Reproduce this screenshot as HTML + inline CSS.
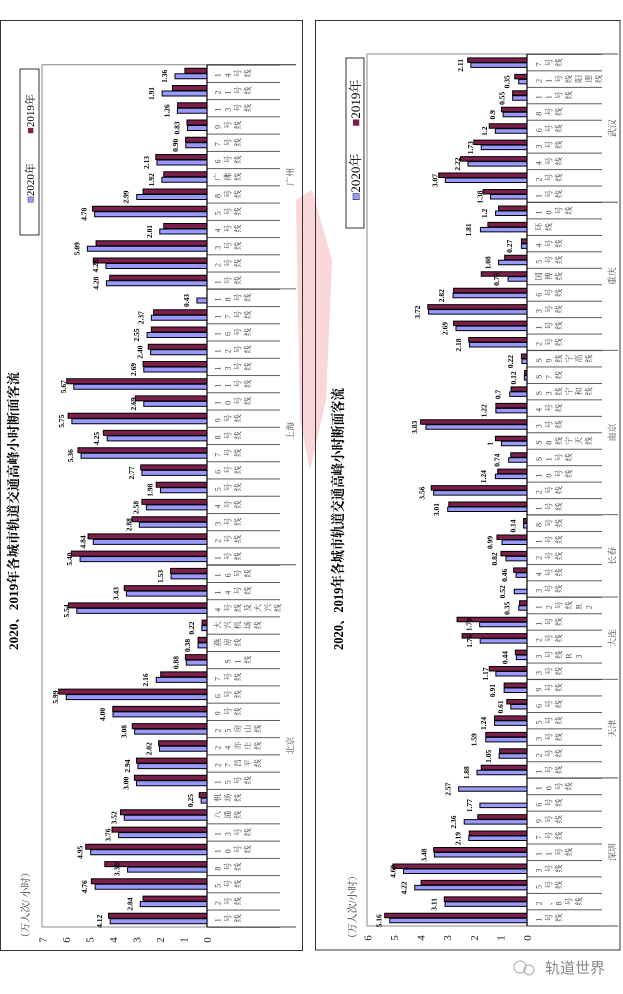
<!DOCTYPE html>
<html><head><meta charset="utf-8">
<style>
html,body{margin:0;padding:0;background:#fff;}
svg{display:block}
.m{fill:#7B1F4B;stroke:#000;stroke-width:1;vector-effect:non-scaling-stroke}
.b{fill:#9999FF;stroke:#000;stroke-width:1;vector-effect:non-scaling-stroke}
.v{font:bold 7.5px "Liberation Serif",serif;text-anchor:middle;fill:#000}
.c{font:8px "Liberation Serif","Noto Serif CJK SC",serif;fill:#444}
.g{font:9px "Liberation Serif","Noto Serif CJK SC",serif;fill:#555;text-anchor:middle}
.t{font:11px "Liberation Serif",serif;fill:#222;text-anchor:middle}
</style></head><body>
<svg width="623" height="994" viewBox="0 0 623 994" xmlns="http://www.w3.org/2000/svg">
<defs>
<pattern id="pl" patternUnits="userSpaceOnUse" x="0" y="64.7" width="200" height="17.244"><rect width="200" height="0.8" fill="#333"/></pattern>
<pattern id="pr" patternUnits="userSpaceOnUse" x="0" y="54" width="200" height="16.45"><rect width="200" height="0.8" fill="#333"/></pattern>
</defs>
<rect width="623" height="994" fill="#fff"/>
<!-- pink watermark -->
<path d="M296 200 L312 190 L332 260 L326 400 L310 470 L300 420 Z" fill="#f4b4b8" opacity="0.55"/>

<!-- LEFT PANEL -->
<rect x="0.5" y="20.5" width="302" height="930" fill="none" stroke="#333" stroke-width="1"/>
<path d="M42 64.7 H296 M42 64.7 V927 M42 927 H296" stroke="#888" stroke-width="1" fill="none"/>
<rect x="207" y="64" width="73" height="864" fill="url(#pl)"/>
<path d="M207 564.8 H296 M207 288.9 H296 M207 927 H296 M207 64.7 H296" stroke="#333" stroke-width="0.8"/>
<line x1="207" y1="64.7" x2="207" y2="927" stroke="#000" stroke-width="1.2"/>
<text class="g" transform="translate(293.5 745.8) rotate(-90)">北京</text>
<text class="g" transform="translate(293.5 431) rotate(-90)">上海</text>
<text class="g" transform="translate(293.5 176.8) rotate(-90)">广州</text>
<g class="t">
<text transform="translate(211 940) rotate(-90)">0</text>
<text transform="translate(187.5 940) rotate(-90)">1</text>
<text transform="translate(164 940) rotate(-90)">2</text>
<text transform="translate(140.5 940) rotate(-90)">3</text>
<text transform="translate(117 940) rotate(-90)">4</text>
<text transform="translate(93.5 940) rotate(-90)">5</text>
<text transform="translate(70 940) rotate(-90)">6</text>
<text transform="translate(46.5 940) rotate(-90)">7</text>
</g>
<text transform="translate(29 905) rotate(-90)" style="font:10px 'Liberation Serif','Noto Serif CJK SC',serif;fill:#333" text-anchor="middle">（万人次/ 小时）</text>
<text transform="translate(18 511) rotate(-90)" style="font:bold 13px 'Liberation Serif','Noto Serif CJK SC',serif" text-anchor="middle" textLength="278" lengthAdjust="spacingAndGlyphs">2020、2019年各城市轨道交通高峰小时断面客流</text>
<rect x="20" y="69" width="19" height="166" fill="#fff" stroke="#000" stroke-width="0.8"/>
<text transform="translate(34 183) rotate(-90)" style="font:11px 'Liberation Serif','Noto Serif CJK SC',serif" text-anchor="middle"><tspan fill="#9999FF" stroke="#000" stroke-width="0.4">■</tspan>2020年</text>
<text transform="translate(34 114) rotate(-90)" style="font:11px 'Liberation Serif','Noto Serif CJK SC',serif" text-anchor="middle"><tspan fill="#7B1F4B">■</tspan>2019年</text>

<g transform="translate(207 0) scale(-23.5 1)">
<g transform="translate(0 918.3)"><rect class="m" y="-5" height="5" width="4.19"/><rect class="b" y=".5" height="5" width="4.12"/><text class="v" transform="translate(4.12) scale(-.04255 1) translate(-8 3) rotate(-90)">4.12</text></g>
<g transform="translate(0 901.1)"><rect class="m" y="-5" height="5" width="2.72"/><rect class="b" y=".5" height="5" width="2.84"/><text class="v" transform="translate(2.84) scale(-.04255 1) translate(-8 3) rotate(-90)">2.84</text></g>
<g transform="translate(0 883.8)"><rect class="m" y="-5" height="5" width="4.92"/><rect class="b" y=".5" height="5" width="4.76"/><text class="v" transform="translate(4.76) scale(-.04255 1) translate(-8 3) rotate(-90)">4.76</text></g>
<g transform="translate(0 866.6)"><rect class="m" y="-5" height="5" width="4.35"/><rect class="b" y=".5" height="5" width="3.38"/><text class="v" transform="translate(3.38) scale(-.04255 1) translate(-8 3) rotate(-90)">3.38</text></g>
<g transform="translate(0 849.3)"><rect class="m" y="-5" height="5" width="5.16"/><rect class="b" y=".5" height="5" width="4.95"/><text class="v" transform="translate(4.95) scale(-.04255 1) translate(-8 3) rotate(-90)">4.95</text></g>
<g transform="translate(0 832.1)"><rect class="m" y="-5" height="5" width="4.04"/><rect class="b" y=".5" height="5" width="3.76"/><text class="v" transform="translate(3.76) scale(-.04255 1) translate(-8 3) rotate(-90)">3.76</text></g>
<g transform="translate(0 814.8)"><rect class="m" y="-5" height="5" width="3.68"/><rect class="b" y=".5" height="5" width="3.52"/><text class="v" transform="translate(3.52) scale(-.04255 1) translate(-8 3) rotate(-90)">3.52</text></g>
<g transform="translate(0 797.6)"><rect class="m" y="-5" height="5" width="0.33"/><rect class="b" y=".5" height="5" width="0.25"/><text class="v" transform="translate(0.25) scale(-.04255 1) translate(-8 3) rotate(-90)">0.25</text></g>
<g transform="translate(0 780.3)"><rect class="m" y="-5" height="5" width="3.09"/><rect class="b" y=".5" height="5" width="3.00"/><text class="v" transform="translate(3.00) scale(-.04255 1) translate(-8 3) rotate(-90)">3.00</text></g>
<g transform="translate(0 763.1)"><rect class="m" y="-5" height="5" width="3.00"/><rect class="b" y=".5" height="5" width="2.94"/><text class="v" transform="translate(2.94) scale(-.04255 1) translate(-8 3) rotate(-90)">2.94</text></g>
<g transform="translate(0 745.8)"><rect class="m" y="-5" height="5" width="2.06"/><rect class="b" y=".5" height="5" width="2.02"/><text class="v" transform="translate(2.02) scale(-.04255 1) translate(-8 3) rotate(-90)">2.02</text></g>
<g transform="translate(0 728.6)"><rect class="m" y="-5" height="5" width="3.18"/><rect class="b" y=".5" height="5" width="3.08"/><text class="v" transform="translate(3.08) scale(-.04255 1) translate(-8 3) rotate(-90)">3.08</text></g>
<g transform="translate(0 711.4)"><rect class="m" y="-5" height="5" width="4.01"/><rect class="b" y=".5" height="5" width="4.00"/><text class="v" transform="translate(4.00) scale(-.04255 1) translate(-8 3) rotate(-90)">4.00</text></g>
<g transform="translate(0 694.1)"><rect class="m" y="-5" height="5" width="6.31"/><rect class="b" y=".5" height="5" width="5.99"/><text class="v" transform="translate(5.99) scale(-.04255 1) translate(-8 3) rotate(-90)">5.99</text></g>
<g transform="translate(0 676.9)"><rect class="m" y="-5" height="5" width="1.97"/><rect class="b" y=".5" height="5" width="2.16"/><text class="v" transform="translate(2.16) scale(-.04255 1) translate(-8 3) rotate(-90)">2.16</text></g>
<g transform="translate(0 659.6)"><rect class="m" y="-5" height="5" width="0.92"/><rect class="b" y=".5" height="5" width="0.88"/><text class="v" transform="translate(0.88) scale(-.04255 1) translate(-8 3) rotate(-90)">0.88</text></g>
<g transform="translate(0 642.4)"><rect class="m" y="-5" height="5" width="0.38"/><rect class="b" y=".5" height="5" width="0.38"/><text class="v" transform="translate(0.38) scale(-.04255 1) translate(-8 3) rotate(-90)">0.38</text></g>
<g transform="translate(0 625.1)"><rect class="m" y="-5" height="5" width="0.21"/><rect class="b" y=".5" height="5" width="0.22"/><text class="v" transform="translate(0.22) scale(-.04255 1) translate(-8 3) rotate(-90)">0.22</text></g>
<g transform="translate(0 607.9)"><rect class="m" y="-5" height="5" width="5.89"/><rect class="b" y=".5" height="5" width="5.54"/><text class="v" transform="translate(5.54) scale(-.04255 1) translate(-8 3) rotate(-90)">5.54</text></g>
<g transform="translate(0 590.6)"><rect class="m" y="-5" height="5" width="3.52"/><rect class="b" y=".5" height="5" width="3.43"/><text class="v" transform="translate(3.43) scale(-.04255 1) translate(-8 3) rotate(-90)">3.43</text></g>
<g transform="translate(0 573.4)"><rect class="m" y="-5" height="5" width="1.55"/><rect class="b" y=".5" height="5" width="1.53"/><text class="v" transform="translate(1.53) scale(-.04255 1) translate(-8 3) rotate(-90)">1.53</text></g>
<g transform="translate(0 556.1)"><rect class="m" y="-5" height="5" width="5.77"/><rect class="b" y=".5" height="5" width="5.40"/><text class="v" transform="translate(5.40) scale(-.04255 1) translate(-8 3) rotate(-90)">5.40</text></g>
<g transform="translate(0 538.9)"><rect class="m" y="-5" height="5" width="5.06"/><rect class="b" y=".5" height="5" width="4.84"/><text class="v" transform="translate(4.84) scale(-.04255 1) translate(-8 3) rotate(-90)">4.84</text></g>
<g transform="translate(0 521.7)"><rect class="m" y="-5" height="5" width="3.19"/><rect class="b" y=".5" height="5" width="2.88"/><text class="v" transform="translate(2.88) scale(-.04255 1) translate(-8 3) rotate(-90)">2.88</text></g>
<g transform="translate(0 504.4)"><rect class="m" y="-5" height="5" width="2.77"/><rect class="b" y=".5" height="5" width="2.58"/><text class="v" transform="translate(2.58) scale(-.04255 1) translate(-8 3) rotate(-90)">2.58</text></g>
<g transform="translate(0 487.2)"><rect class="m" y="-5" height="5" width="2.16"/><rect class="b" y=".5" height="5" width="1.98"/><text class="v" transform="translate(1.98) scale(-.04255 1) translate(-8 3) rotate(-90)">1.98</text></g>
<g transform="translate(0 469.9)"><rect class="m" y="-5" height="5" width="2.82"/><rect class="b" y=".5" height="5" width="2.77"/><text class="v" transform="translate(2.77) scale(-.04255 1) translate(-8 3) rotate(-90)">2.77</text></g>
<g transform="translate(0 452.7)"><rect class="m" y="-5" height="5" width="5.49"/><rect class="b" y=".5" height="5" width="5.36"/><text class="v" transform="translate(5.36) scale(-.04255 1) translate(-8 3) rotate(-90)">5.36</text></g>
<g transform="translate(0 435.4)"><rect class="m" y="-5" height="5" width="4.41"/><rect class="b" y=".5" height="5" width="4.25"/><text class="v" transform="translate(4.25) scale(-.04255 1) translate(-8 3) rotate(-90)">4.25</text></g>
<g transform="translate(0 418.2)"><rect class="m" y="-5" height="5" width="5.91"/><rect class="b" y=".5" height="5" width="5.75"/><text class="v" transform="translate(5.75) scale(-.04255 1) translate(-8 3) rotate(-90)">5.75</text></g>
<g transform="translate(0 400.9)"><rect class="m" y="-5" height="5" width="3.05"/><rect class="b" y=".5" height="5" width="2.69"/><text class="v" transform="translate(2.69) scale(-.04255 1) translate(-8 3) rotate(-90)">2.69</text></g>
<g transform="translate(0 383.7)"><rect class="m" y="-5" height="5" width="5.97"/><rect class="b" y=".5" height="5" width="5.67"/><text class="v" transform="translate(5.67) scale(-.04255 1) translate(-8 3) rotate(-90)">5.67</text></g>
<g transform="translate(0 366.5)"><rect class="m" y="-5" height="5" width="2.72"/><rect class="b" y=".5" height="5" width="2.69"/><text class="v" transform="translate(2.69) scale(-.04255 1) translate(-8 3) rotate(-90)">2.69</text></g>
<g transform="translate(0 349.2)"><rect class="m" y="-5" height="5" width="2.50"/><rect class="b" y=".5" height="5" width="2.40"/><text class="v" transform="translate(2.40) scale(-.04255 1) translate(-8 3) rotate(-90)">2.40</text></g>
<g transform="translate(0 332.0)"><rect class="m" y="-5" height="5" width="2.37"/><rect class="b" y=".5" height="5" width="2.55"/><text class="v" transform="translate(2.55) scale(-.04255 1) translate(-8 3) rotate(-90)">2.55</text></g>
<g transform="translate(0 314.7)"><rect class="m" y="-5" height="5" width="2.27"/><rect class="b" y=".5" height="5" width="2.37"/><text class="v" transform="translate(2.37) scale(-.04255 1) translate(-8 3) rotate(-90)">2.37</text></g>
<g transform="translate(0 297.5)"><rect class="b" y=".5" height="5" width="0.43"/><text class="v" transform="translate(0.43) scale(-.04255 1) translate(-8 3) rotate(-90)">0.43</text></g>
<g transform="translate(0 280.2)"><rect class="m" y="-5" height="5" width="4.14"/><rect class="b" y=".5" height="5" width="4.28"/><text class="v" transform="translate(4.28) scale(-.04255 1) translate(-8 3) rotate(-90)">4.28</text></g>
<g transform="translate(0 263.0)"><rect class="m" y="-5" height="5" width="4.84"/><rect class="b" y=".5" height="5" width="4.30"/><text class="v" transform="translate(4.30) scale(-.04255 1) translate(-8 3) rotate(-90)">4.28</text></g>
<g transform="translate(0 245.7)"><rect class="m" y="-5" height="5" width="4.72"/><rect class="b" y=".5" height="5" width="5.09"/><text class="v" transform="translate(5.09) scale(-.04255 1) translate(-8 3) rotate(-90)">5.09</text></g>
<g transform="translate(0 228.5)"><rect class="m" y="-5" height="5" width="1.84"/><rect class="b" y=".5" height="5" width="2.01"/><text class="v" transform="translate(2.01) scale(-.04255 1) translate(-8 3) rotate(-90)">2.01</text></g>
<g transform="translate(0 211.2)"><rect class="m" y="-5" height="5" width="4.87"/><rect class="b" y=".5" height="5" width="4.78"/><text class="v" transform="translate(4.78) scale(-.04255 1) translate(-8 3) rotate(-90)">4.78</text></g>
<g transform="translate(0 194.0)"><rect class="m" y="-5" height="5" width="2.72"/><rect class="b" y=".5" height="5" width="2.99"/><text class="v" transform="translate(2.99) scale(-.04255 1) translate(-8 3) rotate(-90)">2.99</text></g>
<g transform="translate(0 176.8)"><rect class="m" y="-5" height="5" width="1.84"/><rect class="b" y=".5" height="5" width="1.92"/><text class="v" transform="translate(1.92) scale(-.04255 1) translate(-8 3) rotate(-90)">1.92</text></g>
<g transform="translate(0 159.5)"><rect class="m" y="-5" height="5" width="2.18"/><rect class="b" y=".5" height="5" width="2.13"/><text class="v" transform="translate(2.13) scale(-.04255 1) translate(-8 3) rotate(-90)">2.13</text></g>
<g transform="translate(0 142.3)"><rect class="m" y="-5" height="5" width="0.91"/><rect class="b" y=".5" height="5" width="0.90"/><text class="v" transform="translate(0.90) scale(-.04255 1) translate(-8 3) rotate(-90)">0.90</text></g>
<g transform="translate(0 125.0)"><rect class="m" y="-5" height="5" width="0.85"/><rect class="b" y=".5" height="5" width="0.83"/><text class="v" transform="translate(0.83) scale(-.04255 1) translate(-8 3) rotate(-90)">0.83</text></g>
<g transform="translate(0 107.8)"><rect class="m" y="-5" height="5" width="1.25"/><rect class="b" y=".5" height="5" width="1.26"/><text class="v" transform="translate(1.26) scale(-.04255 1) translate(-8 3) rotate(-90)">1.26</text></g>
<g transform="translate(0 90.5)"><rect class="m" y="-5" height="5" width="1.47"/><rect class="b" y=".5" height="5" width="1.91"/><text class="v" transform="translate(1.91) scale(-.04255 1) translate(-8 3) rotate(-90)">1.91</text></g>
<g transform="translate(0 73.3)"><rect class="m" y="-5" height="5" width="0.94"/><rect class="b" y=".5" height="5" width="1.36"/><text class="v" transform="translate(1.36) scale(-.04255 1) translate(-8 3) rotate(-90)">1.36</text></g>
</g>

<!-- left category labels -->
<g class="c">
<text x="220.5 230.5 240.5 250.5 260.5 270.5 280.5" y="922.3" rotate="-90">1号线</text>
<text x="220.5 230.5 240.5 250.5 260.5 270.5 280.5" y="905.1" rotate="-90">2号线</text>
<text x="220.5 230.5 240.5 250.5 260.5 270.5 280.5" y="887.8" rotate="-90">5号线</text>
<text x="220.5 230.5 240.5 250.5 260.5 270.5 280.5" y="870.6" rotate="-90">8号线</text>
<text x="220.5 230.5 240.5 250.5 260.5 270.5 280.5" y="853.3" rotate="-90">10号线</text>
<text x="220.5 230.5 240.5 250.5 260.5 270.5 280.5" y="836.1" rotate="-90">13号线</text>
<text x="220.5 230.5 240.5 250.5 260.5 270.5 280.5" y="818.8" rotate="-90">八通线</text>
<text x="220.5 230.5 240.5 250.5 260.5 270.5 280.5" y="801.6" rotate="-90">机场线</text>
<text x="220.5 230.5 240.5 250.5 260.5 270.5 280.5" y="784.3" rotate="-90">15号线</text>
<text x="220.5 230.5 240.5 250.5 260.5 270.5 280.5" y="767.1" rotate="-90">27昌平线</text>
<text x="220.5 230.5 240.5 250.5 260.5 270.5 280.5" y="749.8" rotate="-90">24亦庄线</text>
<text x="220.5 230.5 240.5 250.5 260.5 270.5 280.5" y="732.6" rotate="-90">25房山线</text>
<text x="220.5 230.5 240.5 250.5 260.5 270.5 280.5" y="715.4" rotate="-90">9号线</text>
<text x="220.5 230.5 240.5 250.5 260.5 270.5 280.5" y="698.1" rotate="-90">6号线</text>
<text x="220.5 230.5 240.5 250.5 260.5 270.5 280.5" y="680.9" rotate="-90">7号线</text>
<text x="230.5 240.5 250.5 260.5" y="663.6" rotate="-90">S1线</text>
<text x="220.5 230.5 240.5 250.5 260.5 270.5 280.5" y="646.4" rotate="-90">燕房线</text>
<text x="220.5 230.5 240.5 250.5 260.5 270.5 280.5" y="629.1" rotate="-90">大兴机场线</text>
<text x="220.5 230.5 240.5 250.5 260.5 270.5 280.5" y="611.9" rotate="-90">4号线及大兴线</text>
<text x="220.5 230.5 240.5 250.5 260.5 270.5 280.5" y="594.6" rotate="-90">14号线</text>
<text x="220.5 230.5 240.5 250.5 260.5 270.5 280.5" y="577.4" rotate="-90">16号线</text>
<text x="220.5 230.5 240.5 250.5 260.5 270.5 280.5" y="560.1" rotate="-90">1号线</text>
<text x="220.5 230.5 240.5 250.5 260.5 270.5 280.5" y="542.9" rotate="-90">2号线</text>
<text x="220.5 230.5 240.5 250.5 260.5 270.5 280.5" y="525.7" rotate="-90">3号线</text>
<text x="220.5 230.5 240.5 250.5 260.5 270.5 280.5" y="508.4" rotate="-90">4号线</text>
<text x="220.5 230.5 240.5 250.5 260.5 270.5 280.5" y="491.2" rotate="-90">5号线</text>
<text x="220.5 230.5 240.5 250.5 260.5 270.5 280.5" y="473.9" rotate="-90">6号线</text>
<text x="220.5 230.5 240.5 250.5 260.5 270.5 280.5" y="456.7" rotate="-90">7号线</text>
<text x="220.5 230.5 240.5 250.5 260.5 270.5 280.5" y="439.4" rotate="-90">8号线</text>
<text x="220.5 230.5 240.5 250.5 260.5 270.5 280.5" y="422.2" rotate="-90">9号线</text>
<text x="220.5 230.5 240.5 250.5 260.5 270.5 280.5" y="404.9" rotate="-90">10号线</text>
<text x="220.5 230.5 240.5 250.5 260.5 270.5 280.5" y="387.7" rotate="-90">11号线</text>
<text x="220.5 230.5 240.5 250.5 260.5 270.5 280.5" y="370.5" rotate="-90">13号线</text>
<text x="220.5 230.5 240.5 250.5 260.5 270.5 280.5" y="353.2" rotate="-90">12号线</text>
<text x="220.5 230.5 240.5 250.5 260.5 270.5 280.5" y="336.0" rotate="-90">16号线</text>
<text x="220.5 230.5 240.5 250.5 260.5 270.5 280.5" y="318.7" rotate="-90">17号线</text>
<text x="220.5 230.5 240.5 250.5 260.5 270.5 280.5" y="301.5" rotate="-90">18号线</text>
<text x="220.5 230.5 240.5 250.5 260.5 270.5 280.5" y="284.2" rotate="-90">1号线</text>
<text x="220.5 230.5 240.5 250.5 260.5 270.5 280.5" y="267.0" rotate="-90">2号线</text>
<text x="220.5 230.5 240.5 250.5 260.5 270.5 280.5" y="249.7" rotate="-90">3号线</text>
<text x="220.5 230.5 240.5 250.5 260.5 270.5 280.5" y="232.5" rotate="-90">4号线</text>
<text x="220.5 230.5 240.5 250.5 260.5 270.5 280.5" y="215.2" rotate="-90">5号线</text>
<text x="220.5 230.5 240.5 250.5 260.5 270.5 280.5" y="198.0" rotate="-90">8号线</text>
<text x="220.5 230.5 240.5 250.5 260.5 270.5 280.5" y="180.8" rotate="-90">广佛线</text>
<text x="220.5 230.5 240.5 250.5 260.5 270.5 280.5" y="163.5" rotate="-90">6号线</text>
<text x="220.5 230.5 240.5 250.5 260.5 270.5 280.5" y="146.3" rotate="-90">7号线</text>
<text x="220.5 230.5 240.5 250.5 260.5 270.5 280.5" y="129.0" rotate="-90">9号线</text>
<text x="220.5 230.5 240.5 250.5 260.5 270.5 280.5" y="111.8" rotate="-90">13号线</text>
<text x="220.5 230.5 240.5 250.5 260.5 270.5 280.5" y="94.5" rotate="-90">21号线</text>
<text x="220.5 230.5 240.5 250.5 260.5 270.5 280.5" y="77.3" rotate="-90">14号线</text>
</g>

<!-- RIGHT PANEL -->
<rect x="315.5" y="20.5" width="304.5" height="929.5" fill="none" stroke="#333" stroke-width="1"/>
<path d="M367 54 H618 M367 54 V926 M367 926 H618" stroke="#888" stroke-width="1" fill="none"/>
<rect x="527" y="53.5" width="75" height="873" fill="url(#pr)"/>
<path d="M527 777.95 H618 M527 679.25 H618 M527 597 H618 M527 514.75 H618 M527 350.25 H618 M527 202.2 H618 M527 926 H618 M527 54 H618" stroke="#333" stroke-width="0.8"/>
<line x1="527" y1="54" x2="527" y2="926" stroke="#000" stroke-width="1.2"/>
<text class="g" transform="translate(615.5 852) rotate(-90)">深圳</text>
<text class="g" transform="translate(615.5 728.6) rotate(-90)">天津</text>
<text class="g" transform="translate(615.5 638) rotate(-90)">大连</text>
<text class="g" transform="translate(615.5 555.9) rotate(-90)">长春</text>
<text class="g" transform="translate(615.5 432.5) rotate(-90)">南京</text>
<text class="g" transform="translate(615.5 276.2) rotate(-90)">重庆</text>
<text class="g" transform="translate(615.5 128.2) rotate(-90)">武汉</text>
<g class="t">
<text transform="translate(531 938) rotate(-90)">0</text>
<text transform="translate(504.4 938) rotate(-90)">1</text>
<text transform="translate(477.8 938) rotate(-90)">2</text>
<text transform="translate(451.2 938) rotate(-90)">3</text>
<text transform="translate(424.6 938) rotate(-90)">4</text>
<text transform="translate(398 938) rotate(-90)">5</text>
<text transform="translate(371.4 938) rotate(-90)">6</text>
</g>
<text transform="translate(356 907) rotate(-90)" style="font:10px 'Liberation Serif','Noto Serif CJK SC',serif;fill:#333" text-anchor="middle">（万人次/小时）</text>
<text transform="translate(343 519) rotate(-90)" style="font:14px 'Liberation Serif','Noto Serif CJK SC',serif;font-weight:bold" text-anchor="middle" textLength="262" lengthAdjust="spacingAndGlyphs">2020、2019年各城市轨道交通高峰小时断面客流</text>
<rect x="346" y="58" width="18" height="170" fill="#fff" stroke="#000" stroke-width="0.8"/>
<text transform="translate(360 103) rotate(-90)" style="font:13px 'Liberation Serif','Noto Serif CJK SC',serif" text-anchor="middle"><tspan fill="#7B1F4B">■</tspan>2019年</text>
<text transform="translate(360 177) rotate(-90)" style="font:13px 'Liberation Serif','Noto Serif CJK SC',serif" text-anchor="middle"><tspan fill="#9999FF" stroke="#000" stroke-width="0.4">■</tspan>2020年</text>

<g transform="translate(527 0) scale(-26.6 1)">
<g transform="translate(0 917.8)"><rect class="m" y="-4.5" height="4.5" width="5.35"/><rect class="b" y=".5" height="4.5" width="5.16"/><text class="v" transform="translate(5.16) scale(-.037594 1) translate(-8 3) rotate(-90)">5.16</text></g>
<g transform="translate(0 901.35)"><rect class="m" y="-4.5" height="4.5" width="3.11"/><rect class="b" y=".5" height="4.5" width="3.08"/><text class="v" transform="translate(3.11) scale(-.037594 1) translate(-8 3) rotate(-90)">3.11</text></g>
<g transform="translate(0 884.9)"><rect class="m" y="-4.5" height="4.5" width="3.98"/><rect class="b" y=".5" height="4.5" width="4.22"/><text class="v" transform="translate(4.22) scale(-.037594 1) translate(-8 3) rotate(-90)">4.22</text></g>
<g transform="translate(0 868.45)"><rect class="m" y="-4.5" height="4.5" width="5.04"/><rect class="b" y=".5" height="4.5" width="4.64"/><text class="v" transform="translate(4.64) scale(-.037594 1) translate(-8 3) rotate(-90)">4.69</text></g>
<g transform="translate(0 852.0)"><rect class="m" y="-4.5" height="4.5" width="3.51"/><rect class="b" y=".5" height="4.5" width="3.48"/><text class="v" transform="translate(3.48) scale(-.037594 1) translate(-8 3) rotate(-90)">3.48</text></g>
<g transform="translate(0 835.55)"><rect class="m" y="-4.5" height="4.5" width="2.17"/><rect class="b" y=".5" height="4.5" width="2.19"/><text class="v" transform="translate(2.19) scale(-.037594 1) translate(-8 3) rotate(-90)">2.19</text></g>
<g transform="translate(0 819.1)"><rect class="m" y="-4.5" height="4.5" width="1.85"/><rect class="b" y=".5" height="4.5" width="2.36"/><text class="v" transform="translate(2.36) scale(-.037594 1) translate(-8 3) rotate(-90)">2.36</text></g>
<g transform="translate(0 802.65)"><rect class="b" y=".5" height="4.5" width="1.77"/><text class="v" transform="translate(1.77) scale(-.037594 1) translate(-8 3) rotate(-90)">1.77</text></g>
<g transform="translate(0 786.2)"><rect class="b" y=".5" height="4.5" width="2.57"/><text class="v" transform="translate(2.57) scale(-.037594 1) translate(-8 3) rotate(-90)">2.57</text></g>
<g transform="translate(0 769.75)"><rect class="m" y="-4.5" height="4.5" width="1.72"/><rect class="b" y=".5" height="4.5" width="1.88"/><text class="v" transform="translate(1.88) scale(-.037594 1) translate(-8 3) rotate(-90)">1.88</text></g>
<g transform="translate(0 753.3)"><rect class="m" y="-4.5" height="4.5" width="1.03"/><rect class="b" y=".5" height="4.5" width="1.05"/><text class="v" transform="translate(1.05) scale(-.037594 1) translate(-8 3) rotate(-90)">1.05</text></g>
<g transform="translate(0 736.85)"><rect class="m" y="-4.5" height="4.5" width="1.55"/><rect class="b" y=".5" height="4.5" width="1.55"/><text class="v" transform="translate(1.59) scale(-.037594 1) translate(-8 3) rotate(-90)">1.59</text></g>
<g transform="translate(0 720.4)"><rect class="m" y="-4.5" height="4.5" width="1.22"/><rect class="b" y=".5" height="4.5" width="1.22"/><text class="v" transform="translate(1.24) scale(-.037594 1) translate(-8 3) rotate(-90)">1.24</text></g>
<g transform="translate(0 703.95)"><rect class="m" y="-4.5" height="4.5" width="0.76"/><rect class="b" y=".5" height="4.5" width="0.61"/><text class="v" transform="translate(0.61) scale(-.037594 1) translate(-8 3) rotate(-90)">0.61</text></g>
<g transform="translate(0 687.5)"><rect class="m" y="-4.5" height="4.5" width="0.86"/><rect class="b" y=".5" height="4.5" width="0.86"/><text class="v" transform="translate(0.91) scale(-.037594 1) translate(-8 3) rotate(-90)">0.91</text></g>
<g transform="translate(0 671.05)"><rect class="m" y="-4.5" height="4.5" width="1.42"/><rect class="b" y=".5" height="4.5" width="1.17"/><text class="v" transform="translate(1.17) scale(-.037594 1) translate(-8 3) rotate(-90)">1.17</text></g>
<g transform="translate(0 654.6)"><rect class="m" y="-4.5" height="4.5" width="0.44"/><rect class="b" y=".5" height="4.5" width="0.40"/><text class="v" transform="translate(0.44) scale(-.037594 1) translate(-8 3) rotate(-90)">0.44</text></g>
<g transform="translate(0 638.15)"><rect class="m" y="-4.5" height="4.5" width="2.44"/><rect class="b" y=".5" height="4.5" width="1.76"/><text class="v" transform="translate(1.76) scale(-.037594 1) translate(-8 3) rotate(-90)">1.76</text></g>
<g transform="translate(0 621.7)"><rect class="m" y="-4.5" height="4.5" width="2.63"/><rect class="b" y=".5" height="4.5" width="1.78"/><text class="v" transform="translate(1.78) scale(-.037594 1) translate(-8 3) rotate(-90)">1.78</text></g>
<g transform="translate(0 605.25)"><rect class="m" y="-4.5" height="4.5" width="0.28"/><rect class="b" y=".5" height="4.5" width="0.31"/><text class="v" transform="translate(0.35) scale(-.037594 1) translate(-8 3) rotate(-90)">0.35</text></g>
<g transform="translate(0 588.8)"><rect class="b" y=".5" height="4.5" width="0.48"/><text class="v" transform="translate(0.52) scale(-.037594 1) translate(-8 3) rotate(-90)">0.52</text></g>
<g transform="translate(0 572.35)"><rect class="m" y="-4.5" height="4.5" width="0.50"/><rect class="b" y=".5" height="4.5" width="0.41"/><text class="v" transform="translate(0.46) scale(-.037594 1) translate(-8 3) rotate(-90)">0.46</text></g>
<g transform="translate(0 555.9)"><rect class="m" y="-4.5" height="4.5" width="0.98"/><rect class="b" y=".5" height="4.5" width="0.79"/><text class="v" transform="translate(0.82) scale(-.037594 1) translate(-8 3) rotate(-90)">0.82</text></g>
<g transform="translate(0 539.45)"><rect class="m" y="-4.5" height="4.5" width="1.13"/><rect class="b" y=".5" height="4.5" width="0.94"/><text class="v" transform="translate(0.99) scale(-.037594 1) translate(-8 3) rotate(-90)">0.99</text></g>
<g transform="translate(0 523.0)"><rect class="m" y="-4.5" height="4.5" width="0.13"/><rect class="b" y=".5" height="4.5" width="0.13"/><text class="v" transform="translate(0.14) scale(-.037594 1) translate(-8 3) rotate(-90)">0.14</text></g>
<g transform="translate(0 506.55)"><rect class="m" y="-4.5" height="4.5" width="2.94"/><rect class="b" y=".5" height="4.5" width="2.98"/><text class="v" transform="translate(3.01) scale(-.037594 1) translate(-8 3) rotate(-90)">3.01</text></g>
<g transform="translate(0 490.1)"><rect class="m" y="-4.5" height="4.5" width="3.60"/><rect class="b" y=".5" height="4.5" width="3.51"/><text class="v" transform="translate(3.56) scale(-.037594 1) translate(-8 3) rotate(-90)">3.56</text></g>
<g transform="translate(0 473.65)"><rect class="m" y="-4.5" height="4.5" width="1.10"/><rect class="b" y=".5" height="4.5" width="1.19"/><text class="v" transform="translate(1.24) scale(-.037594 1) translate(-8 3) rotate(-90)">1.24</text></g>
<g transform="translate(0 457.2)"><rect class="m" y="-4.5" height="4.5" width="0.61"/><rect class="b" y=".5" height="4.5" width="0.69"/><text class="v" transform="translate(0.74) scale(-.037594 1) translate(-8 3) rotate(-90)">0.74</text></g>
<g transform="translate(0 440.75)"><rect class="m" y="-4.5" height="4.5" width="1.19"/><rect class="b" y=".5" height="4.5" width="0.96"/><text class="v" transform="translate(1.0) scale(-.037594 1) translate(-8 3) rotate(-90)">1</text></g>
<g transform="translate(0 424.3)"><rect class="m" y="-4.5" height="4.5" width="4.00"/><rect class="b" y=".5" height="4.5" width="3.80"/><text class="v" transform="translate(3.83) scale(-.037594 1) translate(-8 3) rotate(-90)">3.83</text></g>
<g transform="translate(0 407.85)"><rect class="m" y="-4.5" height="4.5" width="1.17"/><rect class="b" y=".5" height="4.5" width="1.17"/><text class="v" transform="translate(1.22) scale(-.037594 1) translate(-8 3) rotate(-90)">1.22</text></g>
<g transform="translate(0 391.4)"><rect class="m" y="-4.5" height="4.5" width="0.60"/><rect class="b" y=".5" height="4.5" width="0.65"/><text class="v" transform="translate(0.7) scale(-.037594 1) translate(-8 3) rotate(-90)">0.7</text></g>
<g transform="translate(0 374.95)"><rect class="m" y="-4.5" height="4.5" width="0.09"/><rect class="b" y=".5" height="4.5" width="0.10"/><text class="v" transform="translate(0.12) scale(-.037594 1) translate(-8 3) rotate(-90)">0.12</text></g>
<g transform="translate(0 358.5)"><rect class="m" y="-4.5" height="4.5" width="0.21"/><rect class="b" y=".5" height="4.5" width="0.19"/><text class="v" transform="translate(0.22) scale(-.037594 1) translate(-8 3) rotate(-90)">0.22</text></g>
<g transform="translate(0 342.05)"><rect class="m" y="-4.5" height="4.5" width="2.19"/><rect class="b" y=".5" height="4.5" width="2.16"/><text class="v" transform="translate(2.18) scale(-.037594 1) translate(-8 3) rotate(-90)">2.18</text></g>
<g transform="translate(0 325.6)"><rect class="m" y="-4.5" height="4.5" width="2.76"/><rect class="b" y=".5" height="4.5" width="2.67"/><text class="v" transform="translate(2.69) scale(-.037594 1) translate(-8 3) rotate(-90)">2.69</text></g>
<g transform="translate(0 309.15)"><rect class="m" y="-4.5" height="4.5" width="3.73"/><rect class="b" y=".5" height="4.5" width="3.70"/><text class="v" transform="translate(3.72) scale(-.037594 1) translate(-8 3) rotate(-90)">3.72</text></g>
<g transform="translate(0 292.7)"><rect class="m" y="-4.5" height="4.5" width="2.76"/><rect class="b" y=".5" height="4.5" width="2.78"/><text class="v" transform="translate(2.82) scale(-.037594 1) translate(-8 3) rotate(-90)">2.82</text></g>
<g transform="translate(0 276.25)"><rect class="m" y="-4.5" height="4.5" width="1.72"/><rect class="b" y=".5" height="4.5" width="0.71"/><text class="v" transform="translate(0.75) scale(-.037594 1) translate(-8 3) rotate(-90)">0.75</text></g>
<g transform="translate(0 259.8)"><rect class="m" y="-4.5" height="4.5" width="0.84"/><rect class="b" y=".5" height="4.5" width="1.07"/><text class="v" transform="translate(1.08) scale(-.037594 1) translate(-8 3) rotate(-90)">1.08</text></g>
<g transform="translate(0 243.35)"><rect class="m" y="-4.5" height="4.5" width="0.21"/><rect class="b" y=".5" height="4.5" width="0.21"/><text class="v" transform="translate(0.27) scale(-.037594 1) translate(-8 3) rotate(-90)">0.27</text></g>
<g transform="translate(0 226.9)"><rect class="m" y="-4.5" height="4.5" width="1.47"/><rect class="b" y=".5" height="4.5" width="1.75"/><text class="v" transform="translate(1.81) scale(-.037594 1) translate(-8 3) rotate(-90)">1.81</text></g>
<g transform="translate(0 210.45)"><rect class="m" y="-4.5" height="4.5" width="1.07"/><rect class="b" y=".5" height="4.5" width="1.18"/><text class="v" transform="translate(1.2) scale(-.037594 1) translate(-8 3) rotate(-90)">1.2</text></g>
<g transform="translate(0 194.0)"><rect class="m" y="-4.5" height="4.5" width="1.65"/><rect class="b" y=".5" height="4.5" width="1.37"/><text class="v" transform="translate(1.38) scale(-.037594 1) translate(-8 3) rotate(-90)">1.38</text></g>
<g transform="translate(0 177.55)"><rect class="m" y="-4.5" height="4.5" width="3.32"/><rect class="b" y=".5" height="4.5" width="3.07"/><text class="v" transform="translate(3.07) scale(-.037594 1) translate(-8 3) rotate(-90)">3.07</text></g>
<g transform="translate(0 161.1)"><rect class="m" y="-4.5" height="4.5" width="2.50"/><rect class="b" y=".5" height="4.5" width="2.22"/><text class="v" transform="translate(2.22) scale(-.037594 1) translate(-8 3) rotate(-90)">2.22</text></g>
<g transform="translate(0 144.65)"><rect class="m" y="-4.5" height="4.5" width="2.00"/><rect class="b" y=".5" height="4.5" width="1.72"/><text class="v" transform="translate(1.73) scale(-.037594 1) translate(-8 3) rotate(-90)">1.73</text></g>
<g transform="translate(0 128.2)"><rect class="m" y="-4.5" height="4.5" width="1.42"/><rect class="b" y=".5" height="4.5" width="1.19"/><text class="v" transform="translate(1.2) scale(-.037594 1) translate(-8 3) rotate(-90)">1.2</text></g>
<g transform="translate(0 111.75)"><rect class="m" y="-4.5" height="4.5" width="0.96"/><rect class="b" y=".5" height="4.5" width="0.90"/><text class="v" transform="translate(0.9) scale(-.037594 1) translate(-8 3) rotate(-90)">0.9</text></g>
<g transform="translate(0 95.3)"><rect class="m" y="-4.5" height="4.5" width="0.54"/><rect class="b" y=".5" height="4.5" width="0.54"/><text class="v" transform="translate(0.55) scale(-.037594 1) translate(-8 3) rotate(-90)">0.55</text></g>
<g transform="translate(0 78.85)"><rect class="m" y="-4.5" height="4.5" width="0.46"/><rect class="b" y=".5" height="4.5" width="0.31"/><text class="v" transform="translate(0.35) scale(-.037594 1) translate(-8 3) rotate(-90)">0.35</text></g>
<g transform="translate(0 62.4)"><rect class="m" y="-4.5" height="4.5" width="2.23"/><rect class="b" y=".5" height="4.5" width="2.11"/><text class="v" transform="translate(2.11) scale(-.037594 1) translate(-8 3) rotate(-90)">2.11</text></g>
</g>

<!-- right category labels -->
<g class="c">
<text x="541.5 551.5 561.5 571.5 581.5 591.5 601.5" y="921.8" rotate="-90">1号线</text>
<text x="541.5 551.5 561.5 571.5 581.5 591.5 601.5" y="905.35" rotate="-90">2、8号线</text>
<text x="541.5 551.5 561.5 571.5 581.5 591.5 601.5" y="888.9" rotate="-90">5号线</text>
<text x="541.5 551.5 561.5 571.5 581.5 591.5 601.5" y="872.45" rotate="-90">3号线</text>
<text x="541.5 551.5 561.5 571.5 581.5 591.5 601.5" y="856.0" rotate="-90">11号线</text>
<text x="541.5 551.5 561.5 571.5 581.5 591.5 601.5" y="839.55" rotate="-90">7号线</text>
<text x="541.5 551.5 561.5 571.5 581.5 591.5 601.5" y="823.1" rotate="-90">9号线</text>
<text x="541.5 551.5 561.5 571.5 581.5 591.5 601.5" y="806.65" rotate="-90">6号线</text>
<text x="541.5 551.5 561.5 571.5 581.5 591.5 601.5" y="790.2" rotate="-90">10号线</text>
<text x="541.5 551.5 561.5 571.5 581.5 591.5 601.5" y="773.75" rotate="-90">1号线</text>
<text x="541.5 551.5 561.5 571.5 581.5 591.5 601.5" y="757.3" rotate="-90">2号线</text>
<text x="541.5 551.5 561.5 571.5 581.5 591.5 601.5" y="740.85" rotate="-90">3号线</text>
<text x="541.5 551.5 561.5 571.5 581.5 591.5 601.5" y="724.4" rotate="-90">5号线</text>
<text x="541.5 551.5 561.5 571.5 581.5 591.5 601.5" y="707.95" rotate="-90">6号线</text>
<text x="541.5 551.5 561.5 571.5 581.5 591.5 601.5" y="691.5" rotate="-90">9号线</text>
<text x="541.5 551.5 561.5 571.5 581.5 591.5 601.5" y="675.05" rotate="-90">3号线</text>
<text x="541.5 551.5 561.5 571.5 581.5 591.5 601.5" y="658.6" rotate="-90">3号线R3</text>
<text x="541.5 551.5 561.5 571.5 581.5 591.5 601.5" y="642.15" rotate="-90">2号线</text>
<text x="541.5 551.5 561.5 571.5 581.5 591.5 601.5" y="625.7" rotate="-90">1号线</text>
<text x="541.5 551.5 561.5 571.5 581.5 591.5 601.5" y="609.25" rotate="-90">12号线R2</text>
<text x="541.5 551.5 561.5 571.5 581.5 591.5 601.5" y="592.8" rotate="-90">3号线</text>
<text x="541.5 551.5 561.5 571.5 581.5 591.5 601.5" y="576.35" rotate="-90">4号线</text>
<text x="541.5 551.5 561.5 571.5 581.5 591.5 601.5" y="559.9" rotate="-90">2号线</text>
<text x="541.5 551.5 561.5 571.5 581.5 591.5 601.5" y="543.45" rotate="-90">1号线</text>
<text x="541.5 551.5 561.5 571.5 581.5 591.5 601.5" y="527.0" rotate="-90">8号线</text>
<text x="541.5 551.5 561.5 571.5 581.5 591.5 601.5" y="510.55" rotate="-90">1号线</text>
<text x="541.5 551.5 561.5 571.5 581.5 591.5 601.5" y="494.1" rotate="-90">2号线</text>
<text x="541.5 551.5 561.5 571.5 581.5 591.5 601.5" y="477.65" rotate="-90">10号线</text>
<text x="541.5 551.5 561.5 571.5 581.5 591.5 601.5" y="461.2" rotate="-90">S1号线</text>
<text x="541.5 551.5 561.5 571.5 581.5 591.5 601.5" y="444.75" rotate="-90">S8线宁天线</text>
<text x="541.5 551.5 561.5 571.5 581.5 591.5 601.5" y="428.3" rotate="-90">3号线</text>
<text x="541.5 551.5 561.5 571.5 581.5 591.5 601.5" y="411.85" rotate="-90">4号线</text>
<text x="541.5 551.5 561.5 571.5 581.5 591.5 601.5" y="395.4" rotate="-90">S3线宁和线</text>
<text x="541.5 551.5 561.5 571.5 581.5 591.5 601.5" y="378.95" rotate="-90">S7线</text>
<text x="541.5 551.5 561.5 571.5 581.5 591.5 601.5" y="362.5" rotate="-90">S9线宁高线</text>
<text x="541.5 551.5 561.5 571.5 581.5 591.5 601.5" y="346.05" rotate="-90">2号线</text>
<text x="541.5 551.5 561.5 571.5 581.5 591.5 601.5" y="329.6" rotate="-90">1号线</text>
<text x="541.5 551.5 561.5 571.5 581.5 591.5 601.5" y="313.15" rotate="-90">3号线</text>
<text x="541.5 551.5 561.5 571.5 581.5 591.5 601.5" y="296.7" rotate="-90">6号线</text>
<text x="541.5 551.5 561.5 571.5 581.5 591.5 601.5" y="280.25" rotate="-90">国博线</text>
<text x="541.5 551.5 561.5 571.5 581.5 591.5 601.5" y="263.8" rotate="-90">5号线</text>
<text x="541.5 551.5 561.5 571.5 581.5 591.5 601.5" y="247.35" rotate="-90">4号线</text>
<text x="541.5 551.5 561.5 571.5 581.5 591.5 601.5" y="230.9" rotate="-90">环线</text>
<text x="541.5 551.5 561.5 571.5 581.5 591.5 601.5" y="214.45" rotate="-90">10号线</text>
<text x="541.5 551.5 561.5 571.5 581.5 591.5 601.5" y="198.0" rotate="-90">1号线</text>
<text x="541.5 551.5 561.5 571.5 581.5 591.5 601.5" y="181.55" rotate="-90">2号线</text>
<text x="541.5 551.5 561.5 571.5 581.5 591.5 601.5" y="165.1" rotate="-90">4号线</text>
<text x="541.5 551.5 561.5 571.5 581.5 591.5 601.5" y="148.65" rotate="-90">3号线</text>
<text x="541.5 551.5 561.5 571.5 581.5 591.5 601.5" y="132.2" rotate="-90">6号线</text>
<text x="541.5 551.5 561.5 571.5 581.5 591.5 601.5" y="115.75" rotate="-90">8号线</text>
<text x="541.5 551.5 561.5 571.5 581.5 591.5 601.5" y="99.3" rotate="-90">11号线</text>
<text x="541.5 551.5 561.5 571.5 581.5 591.5 601.5" y="82.85" rotate="-90">21号线阳逻线</text>
<text x="541.5 551.5 561.5 571.5 581.5 591.5 601.5" y="66.4" rotate="-90">7号线</text>
</g>

<!-- footer watermark -->
<circle cx="520" cy="967" r="6" fill="none" stroke="#aaa" stroke-width="1"/>
<circle cx="529" cy="970" r="5" fill="none" stroke="#aaa" stroke-width="1"/>
<text x="545" y="973" style="font:15px 'Liberation Sans','Noto Sans CJK SC',sans-serif;fill:#888">轨道世界</text>
</svg>
</body></html>
